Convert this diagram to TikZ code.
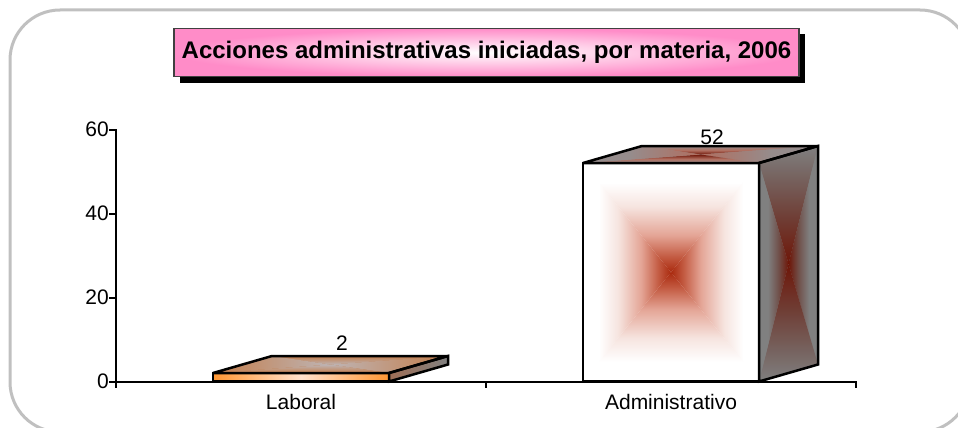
\documentclass[tikz,border=0pt]{standalone}
\usepackage{fontspec}
\setmainfont{Liberation Sans}
\usetikzlibrary{shadows,calc}
\definecolor{framegray}{RGB}{192,192,192}
\definecolor{titlepink}{RGB}{255,140,200}
\definecolor{dred}{RGB}{170,42,15}
\definecolor{redmid}{RGB}{195,90,65}
\definecolor{redlight}{RGB}{228,165,150}
\definecolor{redpale}{RGB}{246,228,223}
\definecolor{sidegray}{RGB}{128,128,128}
\definecolor{sidemid}{RGB}{112,80,74}
\definecolor{sidered}{RGB}{110,22,8}
\definecolor{topgray}{RGB}{150,140,140}
\definecolor{laborange}{RGB}{255,150,50}
\definecolor{labpale}{RGB}{255,225,205}
\definecolor{labbrown}{RGB}{195,125,75}
\definecolor{labtopmid}{RGB}{190,180,180}
\definecolor{labside}{RGB}{160,110,85}
\pgfdeclareverticalshading{pyrred}{100bp}{color(0bp)=(dred); color(25bp)=(dred); color(32bp)=(redmid); color(42bp)=(redlight); color(55bp)=(redpale); color(66bp)=(white); color(100bp)=(white)}
\pgfdeclareverticalshading{pyrsidelr}{100bp}{color(0bp)=(sidered); color(25bp)=(sidered); color(42bp)=(sidemid); color(60bp)=(sidegray); color(100bp)=(sidegray)}
\pgfdeclareverticalshading{pyrsidetb}{100bp}{color(0bp)=(sidered); color(25bp)=(sidered); color(45bp)=(sidemid!70!sidered); color(62bp)=(sidemid!60!sidegray); color(75bp)=(sidegray); color(100bp)=(sidegray)}
\pgfdeclareverticalshading{pyrtoptb}{100bp}{color(0bp)=(sidered); color(25bp)=(sidered); color(50bp)=(redmid!60!topgray); color(75bp)=(topgray); color(100bp)=(topgray)}
\pgfdeclareverticalshading{pyrtoplr}{100bp}{color(0bp)=(redmid!60!topgray); color(25bp)=(redmid!60!topgray); color(55bp)=(topgray); color(100bp)=(topgray)}
\pgfdeclareverticalshading{pyrlabtop}{100bp}{color(0bp)=(labtopmid); color(25bp)=(labtopmid); color(75bp)=(labbrown); color(100bp)=(labbrown)}
% #1 TL, #2 TR, #3 BR, #4 BL, #5 shading top/bottom, #6 shading left/right, #7 base colour
\newcommand\pyrfill[7]{%
  \coordinate (pc) at ($(#1)!0.5!(#3)$);
  \fill[#7] (#1) -- (#2) -- (#3) -- (#4) -- cycle;
  \shade[shading=#5, shading angle=0] (#1) -- (#2) -- (pc) -- cycle;
  \shade[shading=#6, shading angle=-90] (#2) -- (#3) -- (pc) -- cycle;
  \shade[shading=#5, shading angle=180] (#3) -- (#4) -- (pc) -- cycle;
  \shade[shading=#6, shading angle=90] (#4) -- (#1) -- (pc) -- cycle;
}
\tikzset{
  lbl/.style={font=\fontsize{21}{25}\selectfont, inner sep=0pt},
  axisline/.style={line width=2pt, line cap=rect},
  barline/.style={line width=2.5pt, line join=miter, miter limit=2},
  titlebox/.style={draw=black!75, line width=1.3pt, minimum width=625pt, minimum height=48pt,
    inner color=white, outer color=titlepink,
    font=\fontsize{24}{28}\selectfont\bfseries,
    drop shadow={shadow xshift=6pt, shadow yshift=-6pt, fill=black, opacity=1}},
}
\begin{document}
\begin{tikzpicture}[x=1pt,y=-1pt]
\useasboundingbox (0,0) rectangle (958,428);
\draw[framegray, line width=3pt, rounded corners=50pt] (10,10) rectangle (970,432);
% title
\node[titlebox] (title) at (486.5,52.5) {Acciones administrativas iniciadas, por materia, 2006};
% axes
\coordinate (o) at (116,381.5);
\coordinate (ytop) at (116,129.5);
\coordinate (xend) at (856,381.5);
\draw[axisline] (ytop) -- (o) -- (xend);
\foreach \v/\yy in {0/381.5,20/297.5,40/213.5,60/129.5}{
  \coordinate (yt\v) at (116,\yy);
  \draw[axisline] (yt\v) -- ++(-6,0);
  \node[lbl, anchor=east] (ylab\v) at (109,\yy) {\v};
}
\foreach \xx [count=\i] in {116,486,856}{
  \coordinate (xt\i) at (\xx,381.5);
  \draw[axisline] (xt\i) -- ++(0,5);
}
\node[lbl] (catA) at (301,402) {Laboral};
\node[lbl] (catB) at (671,402) {Administrativo};
% bar 1 (Laboral, 2)
\coordinate (a1) at (213,373);   \coordinate (a2) at (389,373);
\coordinate (a3) at (389,381.5); \coordinate (a4) at (213,381.5);
\coordinate (a5) at (272,356);   \coordinate (a6) at (448,356);
\coordinate (a7) at (448,364.5);
\shade[left color=laborange, right color=laborange, middle color=labpale] (a1) rectangle (a3);
\pyrfill{a5}{a6}{a2}{a1}{pyrlabtop}{pyrlabtop}{labbrown}
\shade[left color=labside, right color=sidegray] (a2) -- (a6) -- (a7) -- (a3) -- cycle;
\draw[barline] (a1) -- (a2) -- (a3) -- (a4) -- cycle;
\draw[barline] (a2) -- (a1) -- (a5) -- (a6) -- cycle;
\draw[barline] (a2) -- (a6) -- (a7) -- (a3) -- cycle;
\node[lbl] (valA) at (342,343) {2};
% bar 2 (Administrativo, 52)
\coordinate (b1) at (583,163);   \coordinate (b2) at (759,163);
\coordinate (b3) at (759,381.5); \coordinate (b4) at (583,381.5);
\coordinate (b5) at (642,146);   \coordinate (b6) at (818,146);
\coordinate (b7) at (818,364.5);
\pyrfill{b1}{b2}{b3}{b4}{pyrred}{pyrred}{white}
\pyrfill{b2}{b6}{b7}{b3}{pyrsidetb}{pyrsidelr}{sidegray}
\pyrfill{b5}{b6}{b2}{b1}{pyrtoptb}{pyrtoplr}{topgray}
\draw[barline] (b1) -- (b2) -- (b3) -- (b4) -- cycle;
\draw[barline] (b2) -- (b1) -- (b5) -- (b6) -- cycle;
\draw[barline] (b2) -- (b6) -- (b7) -- (b3) -- cycle;
\node[lbl] (valB) at (712,137) {52};
\end{tikzpicture}
\end{document}
